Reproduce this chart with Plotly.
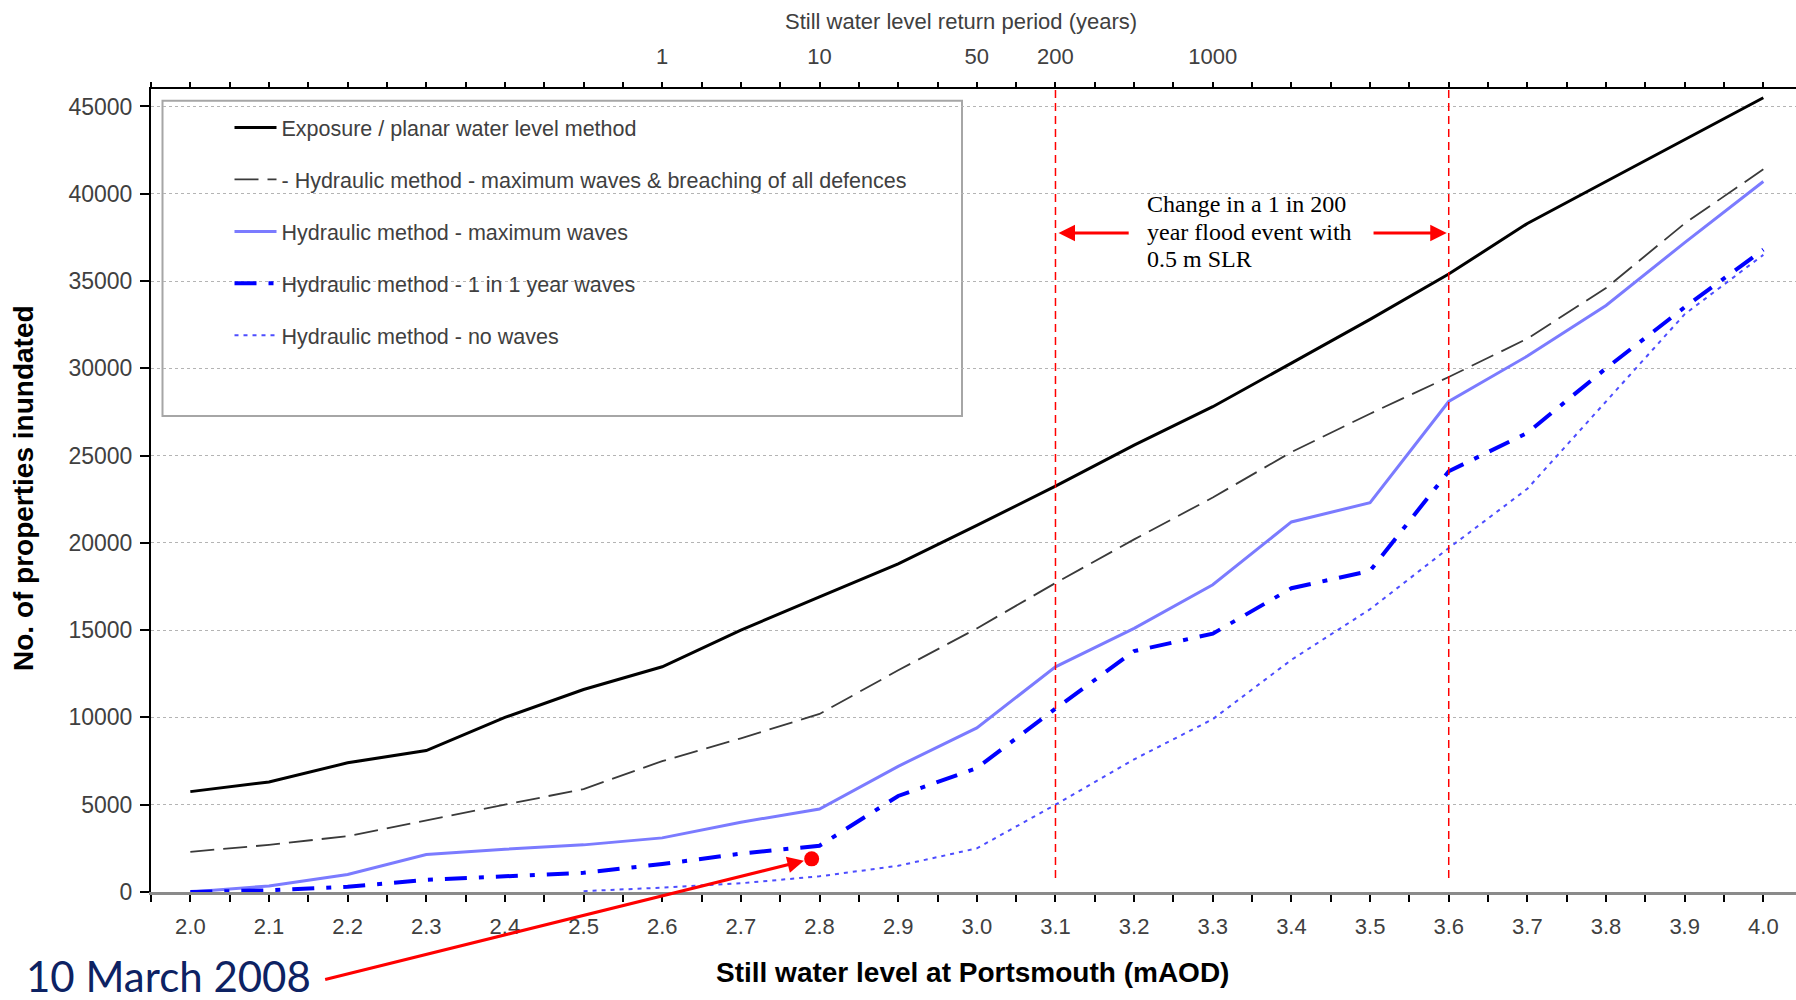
import numpy as np
import plotly.graph_objects as go

# ---------------- data ----------------
LEVELS = [2.0, 2.1, 2.2, 2.3, 2.4, 2.5, 2.6, 2.7, 2.8, 2.9, 3.0,
          3.1, 3.2, 3.3, 3.4, 3.5, 3.6, 3.7, 3.8, 3.9, 4.0]

EXPOSURE = [5750, 6300, 7400, 8100, 10000, 11600, 12900, 15000, 16900, 18800, 21000,
            23250, 25600, 27800, 30300, 32800, 35400, 38300, 40700, 43100, 45500]
BREACH = [2300, 2700, 3200, 4100, 5000, 5900, 7500, 8800, 10200, 12700, 15100,
          17700, 20200, 22600, 25200, 27400, 29500, 31700, 34600, 38300, 41400]
MAX_WAVES = [0, 350, 1000, 2150, 2450, 2700, 3100, 4000, 4750, 7200, 9400,
             12900, 15100, 17600, 21200, 22300, 28100, 30700, 33600, 37200, 40700]
ONE_IN_ONE = [0, 100, 300, 700, 900, 1100, 1600, 2200, 2650, 5500, 7100,
              10500, 13800, 14800, 17400, 18400, 24100, 26300, 30000, 33500, 36800]
NO_WAVES = [None, None, None, None, None, 50, 250, 500, 900, 1500, 2500,
            5000, 7600, 9900, 13300, 16200, 19700, 23100, 28100, 33100, 36500]

SERIES_NAMES = [
    "Exposure / planar water level method",
    "- Hydraulic method - maximum waves & breaching of all defences",
    "Hydraulic method - maximum waves",
    "Hydraulic method - 1 in 1 year waves",
    "Hydraulic method - no waves",
]

RP_LEVELS = [2.6, 2.8, 3.0, 3.1, 3.3]
RP_LABELS = ["1", "10", "50", "200", "1000"]

SLR_LEVELS = [3.1, 3.6]          # 1 in 200 now, and with 0.5 m SLR
EVENT_LEVEL = [2.79]
EVENT_PROPS = [1900]
EVENT_LABEL = "10 March 2008"

ANNOT_LINES = ["Change in a 1 in 200", "year flood event with", "0.5 m SLR"]

X_TITLE = "Still water level at Portsmouth (mAOD)"
Y_TITLE = "No. of properties inundated"
TOP_TITLE = "Still water level return period (years)"

# ---------------- layout geometry (pixels) ----------------
W, H = 1796, 1000
ML, MR, MT, MB = 151, 0, 89, 108
PW, PH = W - ML - MR, H - MT - MB
XR = [1.95, 1.95 + PW / 786.5]
YR = [0, 46000]


def px(xp):  # pixel x -> paper
    return (xp - ML) / PW


def py(yp):  # pixel y -> paper
    return 1 - (yp - MT) / PH


SANS = "Arial, Liberation Sans, sans-serif"
SERIF = "Times New Roman, Liberation Serif, serif"
GREY = "#404040"

fig = go.Figure()

styles = [
    dict(color="#000000", width=3),
    dict(color="#3a3a3a", width=1.8, dash="24px,9px"),
    dict(color="#7b7bff", width=3),
    dict(color="#0000ff", width=4, dash="22px,12px,5px,12px"),
    dict(color="#4d4dff", width=2, dash="4px,5px"),
]
for i, (name, vals) in enumerate(zip(SERIES_NAMES,
                                     [EXPOSURE, BREACH, MAX_WAVES, ONE_IN_ONE, NO_WAVES])):
    fig.add_trace(go.Scatter(x=LEVELS, y=vals, mode="lines", name=name,
                             line=styles[i], legendgroup=f"g{i}",
                             connectgaps=False, hoverinfo="skip"))

# event marker (on the top axis so that axis is drawn; ranges are matched)
fig.add_trace(go.Scatter(x=EVENT_LEVEL, y=EVENT_PROPS, mode="markers",
                         marker=dict(color="#ff0000", size=15),
                         xaxis="x2", showlegend=False, hoverinfo="skip"))

bottom_ticks = [round(v, 2) for v in np.arange(1.95, 4.001, 0.05)]
bottom_text = [f"{v:.1f}" if abs(v * 10 - round(v * 10)) < 1e-6 else "" for v in bottom_ticks]
top_text = []
for v in bottom_ticks:
    lab = ""
    for lv, lb in zip(RP_LEVELS, RP_LABELS):
        if abs(lv - v) < 1e-6:
            lab = lb
    top_text.append(lab)

fig.update_layout(
    width=W, height=H,
    margin=dict(l=ML, r=MR, t=MT, b=MB, pad=0),
    paper_bgcolor="white", plot_bgcolor="white",
    showlegend=True,
    legend=dict(x=px(229.5), y=py(107), xanchor="left", yanchor="top",
                bgcolor="rgba(0,0,0,0)", borderwidth=0,
                font=dict(family=SANS, size=21.5, color=GREY),
                tracegroupgap=21, itemwidth=42, traceorder="grouped"),
    xaxis=dict(range=XR, tickmode="array", tickvals=bottom_ticks, ticktext=bottom_text,
               ticks="outside", ticklen=7, tickcolor="#000000", tickwidth=1.5,
               showline=True, linecolor="#8a8a8a", linewidth=3,
               showgrid=False, zeroline=False, ticklabelstandoff=6,
               tickfont=dict(family=SANS, size=22, color=GREY)),
    xaxis2=dict(range=XR, matches="x", overlaying="x", side="top", anchor="y",
                tickmode="array", tickvals=bottom_ticks, ticktext=top_text,
                ticks="outside", ticklen=5, tickcolor="#000000", tickwidth=1.5,
                showline=True, linecolor="#000000", linewidth=2,
                showgrid=False, zeroline=False, ticklabelstandoff=9,
                tickfont=dict(family=SANS, size=22, color=GREY)),
    yaxis=dict(range=YR, tickmode="linear", tick0=0, dtick=5000, tickformat="d",
               ticks="outside", ticklen=9, tickcolor="#000000", tickwidth=1.5,
               showline=True, linecolor="#000000", linewidth=2,
               showgrid=True, gridcolor="#b4b4b4", gridwidth=1, griddash="dot",
               zeroline=False, ticklabelstandoff=3,
               tickfont=dict(family=SANS, size=23, color=GREY)),
)

shapes = []
# legend frame
shapes.append(dict(type="rect", xref="paper", yref="paper",
                   x0=px(162.5), x1=px(962), y0=py(416), y1=py(100.7),
                   fillcolor="white", line=dict(color="#a6a6a6", width=2), layer="between"))
# white backing for annotation text
shapes.append(dict(type="rect", xref="paper", yref="paper",
                   x0=px(1130), x1=px(1371), y0=py(275), y1=py(186),
                   fillcolor="white", line=dict(width=0), layer="between"))
# red dashed verticals
for lv in SLR_LEVELS:
    shapes.append(dict(type="line", xref="x", yref="y", x0=lv, x1=lv, y0=800, y1=YR[1],
                       line=dict(color="#ff0000", width=1.5, dash="8px,5px"), layer="above"))
fig.update_layout(shapes=shapes)

ann = []
# axis titles
ann.append(dict(text=f"<b>{X_TITLE}</b>", xref="paper", yref="paper", x=px(972), y=py(972),
                xanchor="center", yanchor="middle", showarrow=False,
                font=dict(family=SANS, size=28, color="#000000")))
ann.append(dict(text=f"<b>{Y_TITLE}</b>", xref="paper", yref="paper", x=px(23), y=py(488),
                xanchor="center", yanchor="middle", showarrow=False, textangle=-90,
                font=dict(family=SANS, size=28, color="#000000")))
ann.append(dict(text=TOP_TITLE, xref="paper", yref="paper", x=px(961), y=py(21),
                xanchor="center", yanchor="middle", showarrow=False,
                font=dict(family=SANS, size=22, color=GREY)))
# annotation text lines
for txt, yy in zip(ANNOT_LINES, [204, 231.5, 259]):
    ann.append(dict(text=txt, xref="paper", yref="paper", x=px(1145), y=py(yy),
                    xanchor="left", yanchor="middle", showarrow=False,
                    font=dict(family=SERIF, size=24, color="#000000")))
# SLR arrows
arrow_y = 37750
ann.append(dict(text="", x=SLR_LEVELS[0], y=arrow_y, xref="x", yref="y",
                ax=3.195, ay=arrow_y, axref="x", ayref="y", showarrow=True,
                arrowhead=2, arrowsize=1.1, arrowwidth=3, arrowcolor="#ff0000", standoff=3))
ann.append(dict(text="", x=SLR_LEVELS[1], y=arrow_y, xref="x", yref="y",
                ax=3.5025, ay=arrow_y, axref="x", ayref="y", showarrow=True,
                arrowhead=2, arrowsize=1.1, arrowwidth=3, arrowcolor="#ff0000", standoff=2))
# event label and arrow
ann.append(dict(text=EVENT_LABEL, xref="paper", yref="paper", x=px(24), y=py(976),
                xanchor="left", yanchor="middle", showarrow=False,
                font=dict(family="Lato, Calibri, sans-serif", size=42, color="#0d2263")))
ann.append(dict(text="", x=EVENT_LEVEL[0], y=EVENT_PROPS[0], xref="x2", yref="y",
                ax=-488, ay=121, showarrow=True, arrowhead=2, arrowsize=1.1,
                arrowwidth=3, arrowcolor="#ff0000", standoff=8))
fig.update_layout(annotations=ann)

fig.write_html("out.html")
